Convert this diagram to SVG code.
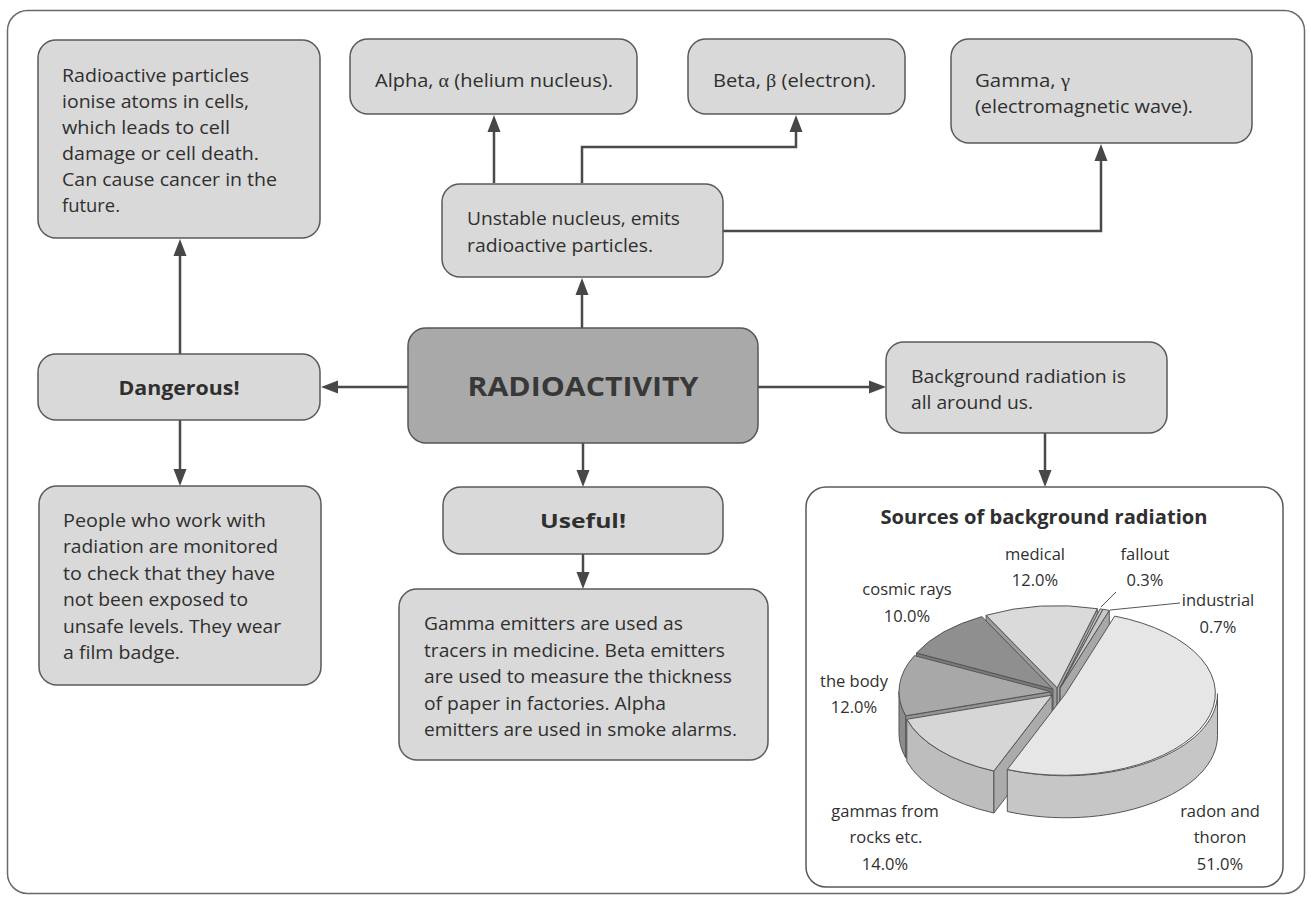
<svg xmlns="http://www.w3.org/2000/svg" width="1311" height="903" viewBox="0 0 1311 903">
<defs>
<marker id="ah" markerUnits="userSpaceOnUse" markerWidth="18" markerHeight="14" refX="7" refY="7" orient="auto">
<path d="M0,0.5 L17,7 L0,13.5 Z" fill="#474747"/>
</marker>
<style>
.box{fill:#d9d9d9;stroke:#5a5a5a;stroke-width:1.5}
.core{fill:#a9a9a9;stroke:#555;stroke-width:1.5}
.chart{fill:#fff;stroke:#5a5a5a;stroke-width:1.5}
.t{font-family:"Open Sans","Noto Sans","Liberation Sans",sans-serif;font-size:18.5px;fill:#2f2f2f}
.g{font-family:"Liberation Serif","DejaVu Serif",serif}
.b{font-weight:bold;font-size:19px;text-anchor:middle}
.big{font-weight:bold;font-size:26px;text-anchor:middle;fill:#383838}
.lbl{font-size:16.5px;text-anchor:middle}
.conn{fill:none;stroke:#4a4a4a;stroke-width:2.5;marker-end:url(#ah)}
.lead{fill:none;stroke:#555;stroke-width:1}
.pe{stroke:#555;stroke-width:1;stroke-linejoin:round}
</style>
</defs>
<rect x="0" y="0" width="1311" height="903" fill="#fff"/>
<rect x="7.5" y="10.5" width="1297" height="883" rx="20" fill="#fff" stroke="#6a6a6a" stroke-width="1.5"/>

<g id="connectors">
<path class="conn" d="M180 354 V249"/>
<path class="conn" d="M408 387 H331"/>
<path class="conn" d="M180 420 V476"/>
<path class="conn" d="M582 328 V288"/>
<path class="conn" d="M494 183 V125"/>
<path class="conn" d="M582 183 V147 H796 V125"/>
<path class="conn" d="M723 231 H1101 V154"/>
<path class="conn" d="M758 387 H876"/>
<path class="conn" d="M583 443 V477"/>
<path class="conn" d="M583 554 V579"/>
<path class="conn" d="M1045 433 V477"/>
</g>

<g id="node-effects">
<rect class="box" x="38" y="40" width="282" height="198" rx="18"/>
<text class="t" x="62" y="82" textLength="187" lengthAdjust="spacingAndGlyphs">Radioactive particles</text>
<text class="t" x="62" y="108" textLength="187" lengthAdjust="spacingAndGlyphs">ionise atoms in cells,</text>
<text class="t" x="62" y="134" textLength="168" lengthAdjust="spacingAndGlyphs">which leads to cell</text>
<text class="t" x="62" y="160" textLength="197" lengthAdjust="spacingAndGlyphs">damage or cell death.</text>
<text class="t" x="62" y="186" textLength="215" lengthAdjust="spacingAndGlyphs">Can cause cancer in the</text>
<text class="t" x="62" y="212" textLength="58" lengthAdjust="spacingAndGlyphs">future.</text>
</g>

<g id="node-alpha">
<rect class="box" x="350" y="39" width="287" height="75" rx="18"/>
<text class="t" x="375" y="87" textLength="238" lengthAdjust="spacingAndGlyphs">Alpha, <tspan class="g">α</tspan> (helium nucleus).</text>
</g>

<g id="node-beta">
<rect class="box" x="688" y="39" width="217" height="75" rx="18"/>
<text class="t" x="713" y="87" textLength="163" lengthAdjust="spacingAndGlyphs">Beta, <tspan class="g">β</tspan> (electron).</text>
</g>

<g id="node-gamma">
<rect class="box" x="951" y="39" width="301" height="104" rx="18"/>
<text class="t" x="975" y="87" textLength="95" lengthAdjust="spacingAndGlyphs">Gamma, <tspan class="g">γ</tspan></text>
<text class="t" x="975" y="113" textLength="218" lengthAdjust="spacingAndGlyphs">(electromagnetic wave).</text>
</g>

<g id="node-unstable">
<rect class="box" x="442" y="184" width="281" height="93" rx="18"/>
<text class="t" x="467" y="225" textLength="213" lengthAdjust="spacingAndGlyphs">Unstable nucleus, emits</text>
<text class="t" x="467" y="252" textLength="186" lengthAdjust="spacingAndGlyphs">radioactive particles.</text>
</g>

<g id="node-radioactivity">
<rect class="core" x="408" y="328" width="350" height="115" rx="18"/>
<text class="t big" x="583" y="396" textLength="231" lengthAdjust="spacingAndGlyphs">RADIOACTIVITY</text>
</g>

<g id="node-dangerous">
<rect class="box" x="38" y="354" width="282" height="66" rx="18"/>
<text class="t b" x="179" y="395" textLength="121" lengthAdjust="spacingAndGlyphs">Dangerous!</text>
</g>

<g id="node-background">
<rect class="box" x="886" y="342" width="281" height="91" rx="18"/>
<text class="t" x="911" y="383" textLength="215" lengthAdjust="spacingAndGlyphs">Background radiation is</text>
<text class="t" x="911" y="409" textLength="122" lengthAdjust="spacingAndGlyphs">all around us.</text>
</g>

<g id="node-monitoring">
<rect class="box" x="39" y="486" width="282" height="199" rx="18"/>
<text class="t" x="63" y="527" textLength="203" lengthAdjust="spacingAndGlyphs">People who work with</text>
<text class="t" x="63" y="553" textLength="215" lengthAdjust="spacingAndGlyphs">radiation are monitored</text>
<text class="t" x="63" y="580" textLength="212" lengthAdjust="spacingAndGlyphs">to check that they have</text>
<text class="t" x="63" y="606" textLength="185" lengthAdjust="spacingAndGlyphs">not been exposed to</text>
<text class="t" x="63" y="633" textLength="218" lengthAdjust="spacingAndGlyphs">unsafe levels. They wear</text>
<text class="t" x="63" y="659" textLength="117" lengthAdjust="spacingAndGlyphs">a film badge.</text>
</g>

<g id="node-useful">
<rect class="box" x="443" y="487" width="280" height="67" rx="18"/>
<text class="t b" x="583" y="528" textLength="86" lengthAdjust="spacingAndGlyphs">Useful!</text>
</g>

<g id="node-uses">
<rect class="box" x="399" y="589" width="369" height="171" rx="18"/>
<text class="t" x="424" y="630" textLength="259" lengthAdjust="spacingAndGlyphs">Gamma emitters are used as</text>
<text class="t" x="424" y="657" textLength="301" lengthAdjust="spacingAndGlyphs">tracers in medicine. Beta emitters</text>
<text class="t" x="424" y="683" textLength="308" lengthAdjust="spacingAndGlyphs">are used to measure the thickness</text>
<text class="t" x="424" y="710" textLength="242" lengthAdjust="spacingAndGlyphs">of paper in factories. Alpha</text>
<text class="t" x="424" y="736" textLength="313" lengthAdjust="spacingAndGlyphs">emitters are used in smoke alarms.</text>
</g>

<g id="node-chart">
<rect class="chart" x="806" y="487" width="477" height="400" rx="20"/>
<text class="t b" x="1044" y="524" textLength="327" lengthAdjust="spacingAndGlyphs">Sources of background radiation</text>

<g id="pie">
<path class="pe" fill="#9c9c9c" d="M1057.2,687.8 L986.1,615.3 L986.1,657.3 L1057.2,729.8 Z"/>
<path class="pe" fill="#a6a6a6" d="M1057.2,687.8 L1097.3,608.7 L1097.3,650.7 L1057.2,729.8 Z"/>
<path class="pe" fill="#dadada" d="M1057.2,687.8 L986.1,615.3 A152,82 0 0 1 1097.3,608.7 Z"/>
<path class="pe" fill="#a8a8a8" d="M1059.9,688 L1102.8,609.3 L1102.8,651.3 L1059.9,730 Z"/>
<path class="pe" fill="#c8c8c8" d="M1059.9,688 L1100,608.9 A152,82 0 0 1 1102.8,609.3 Z"/>
<path class="pe" fill="#a8a8a8" d="M1060.1,688 L1109.3,610.4 L1109.3,652.4 L1060.1,730 Z"/>
<path class="pe" fill="#c8c8c8" d="M1060.1,688 L1103,609.3 A152,82 0 0 1 1109.3,610.4 Z"/>
<path class="pe" fill="#7a7a7a" d="M1053,689.1 L916.5,653 L916.5,695 L1053,731.1 Z"/>
<path class="pe" fill="#8f8f8f" d="M1053,689.1 L916.5,653 A152,82 0 0 1 981.9,616.6 Z"/>
<path class="pe" fill="#8c8c8c" d="M905.7,715.8 A152,82 0 0 1 899,691.7 L899,733.7 A152,82 0 0 0 905.7,757.8 Z"/>
<path class="pe" fill="#939393" d="M1051,691.7 L905.7,715.8 L905.7,757.8 L1051,733.7 Z"/>
<path class="pe" fill="#a8a8a8" d="M1051,691.7 L905.7,715.8 A152,82 0 0 1 914.5,655.6 Z"/>
<path class="pe" fill="#bdbdbd" d="M993.9,771 A152,82 0 0 1 906.8,719.3 L906.8,761.3 A152,82 0 0 0 993.9,813 Z"/>
<path class="pe" fill="#ababab" d="M1052.1,695.2 L993.9,771 L993.9,813 L1052.1,737.2 Z"/>
<path class="pe" fill="#d6d6d6" d="M1052.1,695.2 L993.9,771 A152,82 0 0 1 906.8,719.3 Z"/>
<path class="pe" fill="#c6c6c6" d="M1217.5,693.7 A152,82 0 0 1 1007.3,769.5 L1007.3,811.5 A152,82 0 0 0 1217.5,735.7 Z"/>
<path class="pe" fill="#e6e6e6" d="M1065.5,693.7 L1114.7,616.1 A152,82 0 1 1 1007.3,769.5 Z"/>
</g>

<path class="lead" d="M1116,592 L1101,607"/>
<path class="lead" d="M1180,603 L1110,610"/>

<text class="t lbl" x="1035" y="560">medical</text>
<text class="t lbl" x="1035" y="586">12.0%</text>
<text class="t lbl" x="1145" y="560">fallout</text>
<text class="t lbl" x="1145" y="586">0.3%</text>
<text class="t lbl" x="907" y="595">cosmic rays</text>
<text class="t lbl" x="907" y="622">10.0%</text>
<text class="t lbl" x="1218" y="606">industrial</text>
<text class="t lbl" x="1218" y="633">0.7%</text>
<text class="t lbl" x="854" y="687">the body</text>
<text class="t lbl" x="854" y="713">12.0%</text>
<text class="t lbl" x="885" y="817">gammas from</text>
<text class="t lbl" x="886" y="843">rocks etc.</text>
<text class="t lbl" x="885" y="870">14.0%</text>
<text class="t lbl" x="1220" y="817">radon and</text>
<text class="t lbl" x="1220" y="843">thoron</text>
<text class="t lbl" x="1220" y="870">51.0%</text>
</g>
</svg>
